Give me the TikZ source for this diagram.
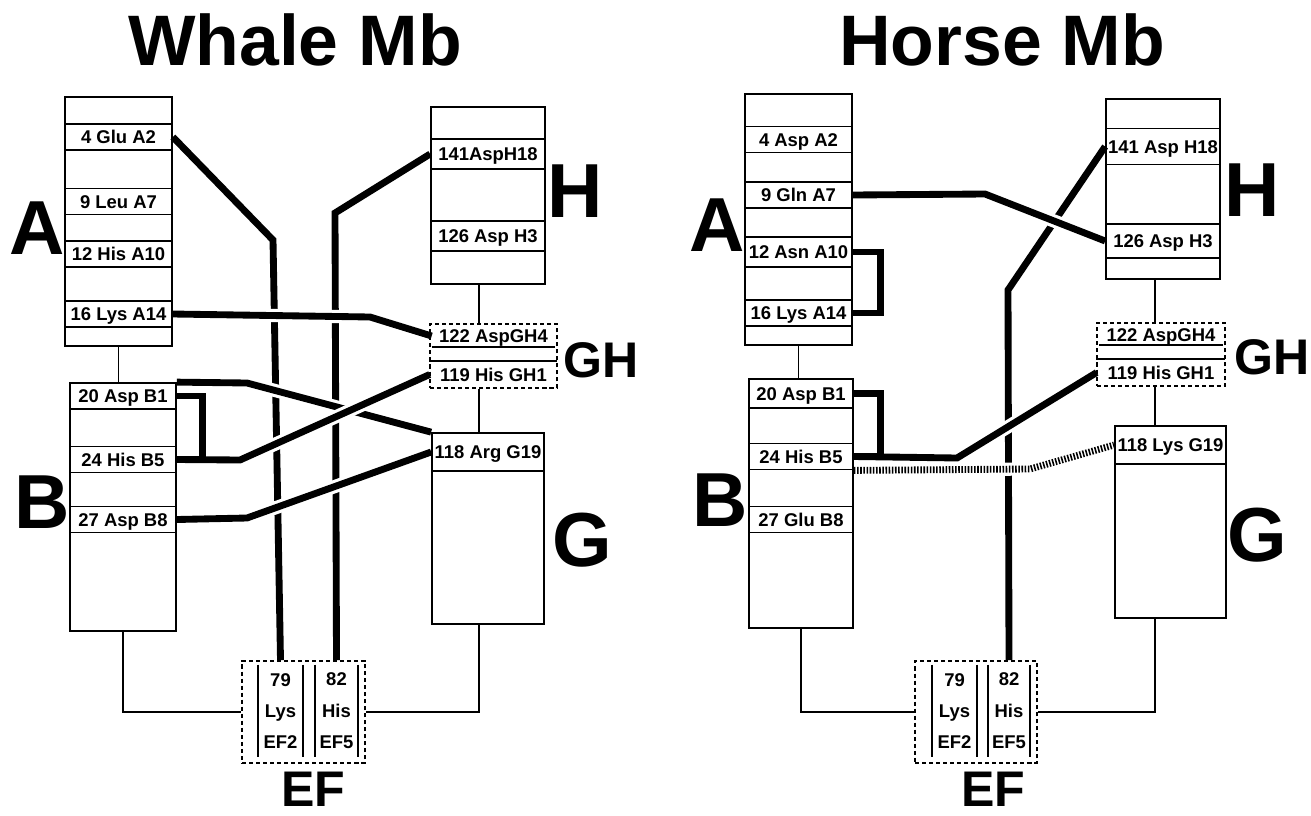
\documentclass[tikz,border=0pt]{standalone}
\usepackage{fontspec}
\setmainfont{Liberation Sans}
\usetikzlibrary{backgrounds}
\begin{document}
\begin{tikzpicture}[x=0.02cm, y=-0.02cm,
    mbBox/.style={draw, line width=1pt, inner sep=0pt},
    mbDash/.style={draw, line width=1.1pt, dash pattern=on 2.3pt off 1.7pt, inner sep=0pt},
    mbRow/.style={draw, line width=1pt, inner sep=0pt, minimum width=#1, minimum height=0.52cm, text height=7.6pt, text depth=0pt, font=\bfseries\fontsize{10.5}{12}\selectfont},
    mbLabel/.style={inner sep=0pt, minimum width=#1, text height=7.6pt, text depth=0pt, font=\bfseries\fontsize{10.5}{12}\selectfont},
    mbCol/.style={inner sep=0pt, minimum width=#1, minimum height=1.84cm, align=center, font=\bfseries\fontsize{10.5}{17.9}\selectfont},
    mbHelix/.style={inner sep=0pt, font=\bfseries\fontsize{43.6}{44}\selectfont},
    mbTurn/.style={inner sep=0pt, text depth=0pt, font=\bfseries\fontsize{28.5}{29}\selectfont},
    mbTitle/.style={inner sep=0pt, font=\bfseries\fontsize{40.7}{42}\selectfont},
    mbRule/.style={line width=1pt},
    mbLink/.style={line width=0.8pt},
    mbBond/.style={line width=3.9pt},
    mbOver/.style={mbBond, preaction={draw=white, line width=7.5pt}},
    mbWeak/.style={line width=3.9pt, dash pattern=on 0.9pt off 0.9pt, preaction={draw=white, line width=7.5pt, solid}}]

    \useasboundingbox (0,0) rectangle (1311,815);

    % Whale
    \node[mbTitle] (whaleTitle) at (295,40) {Whale Mb};
    \node[mbBox, minimum width=2.14cm, minimum height=4.98cm] (whaleA) at (118.5,221.5) {};
    \node[mbRow=2.14cm] (whaleA2) at (118.5,137) {4 Glu A2};
    \node[mbRow=2.14cm] (whaleA7) at (118.5,201.5) {9 Leu A7};
    \node[mbRow=2.14cm] (whaleA10) at (118.5,254) {12 His A10};
    \node[mbRow=2.14cm] (whaleA14) at (118.5,314) {16 Lys A14};
    \node[mbHelix] (whaleLA) at (37,228) {A};

    \node[mbBox, minimum width=2.12cm, minimum height=4.96cm] (whaleB) at (123,507) {};
    \node[mbRow=2.12cm] (whaleB1) at (123,396) {20 Asp B1};
    \node[mbRow=2.12cm] (whaleB5) at (123,459.5) {24 His B5};
    \node[mbRow=2.12cm] (whaleB8) at (123,519.5) {27 Asp B8};
    \node[mbHelix] (whaleLB) at (42,502) {B};

    \node[mbBox, minimum width=2.28cm, minimum height=3.54cm] (whaleH) at (488,195.5) {};
    \node[mbRow=2.28cm, minimum height=0.6cm] (whaleH18) at (488,154) {141AspH18};
    \node[mbRow=2.28cm, minimum height=0.6cm] (whaleH3) at (488,236) {126 Asp H3};
    \node[mbHelix] (whaleLH) at (575,191) {H};

    \node[mbDash, minimum width=2.54cm, minimum height=1.28cm] (whaleGH) at (493.5,356) {};
    \node[mbLabel=2.46cm, minimum height=0.44cm] (whaleGH4) at (493.5,336) {122 AspGH4};
    \node[mbLabel=2.54cm, minimum height=0.54cm] (whaleGH1) at (493.5,374.5) {119 His GH1};
    \draw[mbRule] (whaleGH4.south west) -- (whaleGH4.south east);
    \draw[mbRule] (whaleGH1.north west) -- (whaleGH1.north east);
    \node[mbTurn] (whaleLGH) at (601,360) {GH};

    \node[mbBox, minimum width=2.24cm, minimum height=3.82cm] (whaleG) at (488,528.5) {};
    \node[mbRow=2.24cm, minimum height=0.76cm] (whaleG19) at (488,452) {118 Arg G19};
    \node[mbHelix] (whaleLG) at (582,540) {G};

    \node[mbDash, minimum width=2.46cm, minimum height=2.04cm] (whaleEF) at (303.5,712) {};
    \node[mbCol=0.9cm] (whaleEF2) at (280.5,711) {79\\Lys\\EF2};
    \node[mbCol=0.86cm] (whaleEF5) at (336.5,711) {82\\His\\EF5};
    \draw[mbRule] (whaleEF2.north west) -- (whaleEF2.south west) (whaleEF2.north east) -- (whaleEF2.south east);
    \draw[mbRule] (whaleEF5.north west) -- (whaleEF5.south west) (whaleEF5.north east) -- (whaleEF5.south east);
    \node[mbTurn] (whaleLEF) at (313,789) {EF};
    \coordinate (whaleSpine) at (479,0);

    % Horse
    \node[mbTitle] (horseTitle) at (1002,40) {Horse Mb};
    \node[mbBox, minimum width=2.14cm, minimum height=5.02cm] (horseA) at (798.5,219.5) {};
    \node[mbRow=2.14cm] (horseA2) at (798.5,139.5) {4 Asp A2};
    \node[mbRow=2.14cm] (horseA7) at (798.5,195) {9 Gln A7};
    \node[mbRow=2.14cm, minimum height=0.6cm] (horseA10) at (798.5,252) {12 Asn A10};
    \node[mbRow=2.14cm] (horseA14) at (798.5,313) {16 Lys A14};
    \node[mbHelix] (horseLA) at (717,225) {A};

    \node[mbBox, minimum width=2.08cm, minimum height=4.98cm] (horseB) at (801,503.5) {};
    \node[mbRow=2.08cm, minimum height=0.58cm] (horseB1) at (801,393.5) {20 Asp B1};
    \node[mbRow=2.08cm] (horseB5) at (801,456.5) {24 His B5};
    \node[mbRow=2.08cm] (horseB8) at (801,519.5) {27 Glu B8};
    \node[mbHelix] (horseLB) at (720,500) {B};

    \node[mbBox, minimum width=2.28cm, minimum height=3.6cm] (horseH) at (1163,189) {};
    \node[mbRow=2.28cm, minimum height=0.72cm] (horseH18) at (1163,146.5) {141 Asp H18};
    \node[mbRow=2.28cm, minimum height=0.68cm] (horseH3) at (1163,241) {126 Asp H3};
    \node[mbHelix] (horseLH) at (1252,190) {H};

    \node[mbDash, minimum width=2.56cm, minimum height=1.26cm] (horseGH) at (1161,354.5) {};
    \node[mbLabel=2.46cm, minimum height=0.4cm] (horseGH4) at (1161,334.5) {122 AspGH4};
    \node[mbLabel=2.56cm, minimum height=0.54cm] (horseGH1) at (1161,372.5) {119 His GH1};
    \draw[mbRule] (horseGH4.south west) -- (horseGH4.south east);
    \draw[mbRule] (horseGH1.north west) -- (horseGH1.north east);
    \node[mbTurn] (horseLGH) at (1272,357) {GH};

    \node[mbBox, minimum width=2.22cm, minimum height=3.84cm] (horseG) at (1170.5,522) {};
    \node[mbRow=2.22cm, minimum height=0.76cm] (horseG19) at (1170.5,445) {118 Lys G19};
    \node[mbHelix] (horseLG) at (1257,535) {G};

    \node[mbDash, minimum width=2.44cm, minimum height=2.04cm] (horseEF) at (976,712) {};
    \node[mbCol=0.9cm] (horseEF2) at (954.5,711) {79\\Lys\\EF2};
    \node[mbCol=0.84cm] (horseEF5) at (1009,711) {82\\His\\EF5};
    \draw[mbRule] (horseEF2.north west) -- (horseEF2.south west) (horseEF2.north east) -- (horseEF2.south east);
    \draw[mbRule] (horseEF5.north west) -- (horseEF5.south west) (horseEF5.north east) -- (horseEF5.south east);
    \node[mbTurn] (horseLEF) at (993,789) {EF};
    \coordinate (horseSpine) at (1155,0);

    \begin{pgfonlayer}{background}
    % whale links
    \draw[mbLink] (whaleA.south) -- (whaleA.south |- whaleB.north);
    \draw[mbLink] (whaleB.south) |- (whaleEF.west);
    \draw[mbLink] (whaleEF.east) -| (whaleSpine |- whaleG.south);
    \draw[mbLink] (whaleSpine |- whaleH.south) -- (whaleSpine |- whaleGH.north);
    \draw[mbLink] (whaleSpine |- whaleGH.south) -- (whaleSpine |- whaleG.north);

    % whale salt bridges
    \draw[mbBond] (whaleA2.east) -- (273,240) -- (whaleEF2.north |- whaleEF.north);
    \draw[mbBond] (whaleH18.west) -- (335,213) -- (whaleEF5.north |- whaleEF.north);
    \draw[mbOver] (whaleB1.north east) -- (247,383) -- (whaleG.north west);
    \draw[mbOver] (whaleA14.east) -- (370,317) -- (whaleGH4.west);
    \draw[mbOver] (whaleB5.east) -- (240,460) -- (whaleGH1.west);
    \draw[mbOver] (whaleB8.east) -- (247,518) -- (whaleG19.west);
    \draw[mbBond] (whaleB1.east) -- ++(26,0) |- (whaleB5.east);

    % horse links
    \draw[mbLink] (horseA.south) -- (horseA.south |- horseB.north);
    \draw[mbLink] (horseB.south) |- (horseEF.west);
    \draw[mbLink] (horseEF.east) -| (horseSpine |- horseG.south);
    \draw[mbLink] (horseSpine |- horseH.south) -- (horseSpine |- horseGH.north);
    \draw[mbLink] (horseSpine |- horseGH.south) -- (horseSpine |- horseG.north);

    % horse salt bridges
    \draw[mbBond] (horseH18.west) -- (1008,290) -- (horseEF5.north |- horseEF.north);
    \draw[mbWeak] (horseB5.south east) -- (1030,469) -- (horseG19.west);
    \draw[mbOver] (horseA7.east) -- (985,194) -- (horseH3.west);
    \draw[mbOver] (horseB5.east) -- (957,458) -- (horseGH1.west);
    \draw[mbBond] (horseA10.east) -- ++(28,0) |- (horseA14.east);
    \draw[mbBond] (horseB1.east) -- ++(27,0) |- (horseB5.east);
    \end{pgfonlayer}
\end{tikzpicture}
\end{document}
